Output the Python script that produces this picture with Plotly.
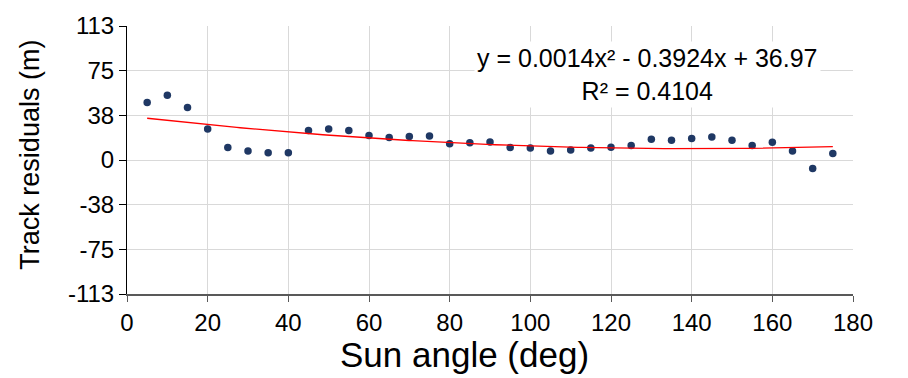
import numpy as np
import plotly.graph_objects as go

# Sun angle samples (deg) and mean track residuals (m)
sun_angle = [5, 10, 15, 20, 25, 30, 35, 40, 45, 50, 55, 60, 65, 70, 75, 80, 85, 90,
             95, 100, 105, 110, 115, 120, 125, 130, 135, 140, 145, 150, 155, 160,
             165, 170, 175]
residuals = [48.2, 54.3, 44.0, 26.0, 10.5, 7.5, 6.1, 6.1, 24.7, 26.0, 24.7, 20.5,
             18.8, 19.7, 20.2, 13.6, 14.4, 15.2, 10.5, 10.0, 7.5, 8.3, 10.0, 10.7,
             12.2, 17.4, 16.6, 18.0, 19.4, 16.6, 12.2, 15.0, 7.5, -7.2, 5.5]

# Quadratic trend coefficients (highest power first), as printed on the chart
trend_coef = [0.0014, -0.3924, 36.97]
r_squared = 0.4104

y_tickvals = [-112.5, -75, -37.5, 0, 37.5, 75, 112.5]
y_ticktext = ["-113", "-75", "-38", "0", "38", "75", "113"]
x_tickvals = [0, 20, 40, 60, 80, 100, 120, 140, 160, 180]

trend_x = np.linspace(min(sun_angle), max(sun_angle), 200)
trend_y = np.polyval(trend_coef, trend_x)

FONT = "Liberation Sans, Arial, sans-serif"

fig = go.Figure()
fig.add_trace(go.Scatter(
    x=sun_angle, y=residuals, mode="markers",
    marker=dict(color="#1F3864", size=7.5),
    showlegend=False,
))
fig.add_trace(go.Scatter(
    x=trend_x, y=trend_y, mode="lines",
    line=dict(color="#FF0000", width=1.3),
    showlegend=False,
))

eq_text = (f"y = {trend_coef[0]:.4f}x² - {abs(trend_coef[1]):.4f}x + {trend_coef[2]:.2f}"
           f"<br>R² = {r_squared:.4f}")
fig.add_annotation(
    x=129, y=72, xref="x", yref="y", text=eq_text, showarrow=False,
    align="center", bgcolor="white", borderpad=2,
    font=dict(family=FONT, size=25, color="black"),
)

# Axis titles
fig.add_annotation(
    x=0.4655, y=-0.224, xref="paper", yref="paper", text="Sun angle (deg)",
    showarrow=False, xanchor="center", yanchor="middle",
    font=dict(family=FONT, size=35, color="black"),
)
fig.add_annotation(
    x=-0.1336, y=0.52, xref="paper", yref="paper", text="Track residuals (m)",
    showarrow=False, xanchor="center", yanchor="middle", textangle=-90,
    font=dict(family=FONT, size=27, color="black"),
)

fig.update_xaxes(
    range=[0, 180], tickvals=x_tickvals,
    showgrid=True, gridcolor="#D9D9D9", gridwidth=1,
    showline=True, linecolor="#595959", linewidth=2,
    ticks="outside", ticklen=6, tickcolor="#595959", tickwidth=1,
    tickfont=dict(family=FONT, size=24, color="black"),
    zeroline=False,
)
fig.update_yaxes(
    range=[-112.5, 112.5], tickvals=y_tickvals, ticktext=y_ticktext,
    showgrid=True, gridcolor="#D9D9D9", gridwidth=1,
    showline=True, linecolor="black", linewidth=1,
    ticks="outside", ticklen=7, tickcolor="black", tickwidth=1,
    tickfont=dict(family=FONT, size=24, color="black"),
    zeroline=False,
)

fig.update_layout(
    width=908, height=378,
    margin=dict(l=127, r=55, t=22, b=84),
    paper_bgcolor="white", plot_bgcolor="white",
)

fig.write_html("out.html")
